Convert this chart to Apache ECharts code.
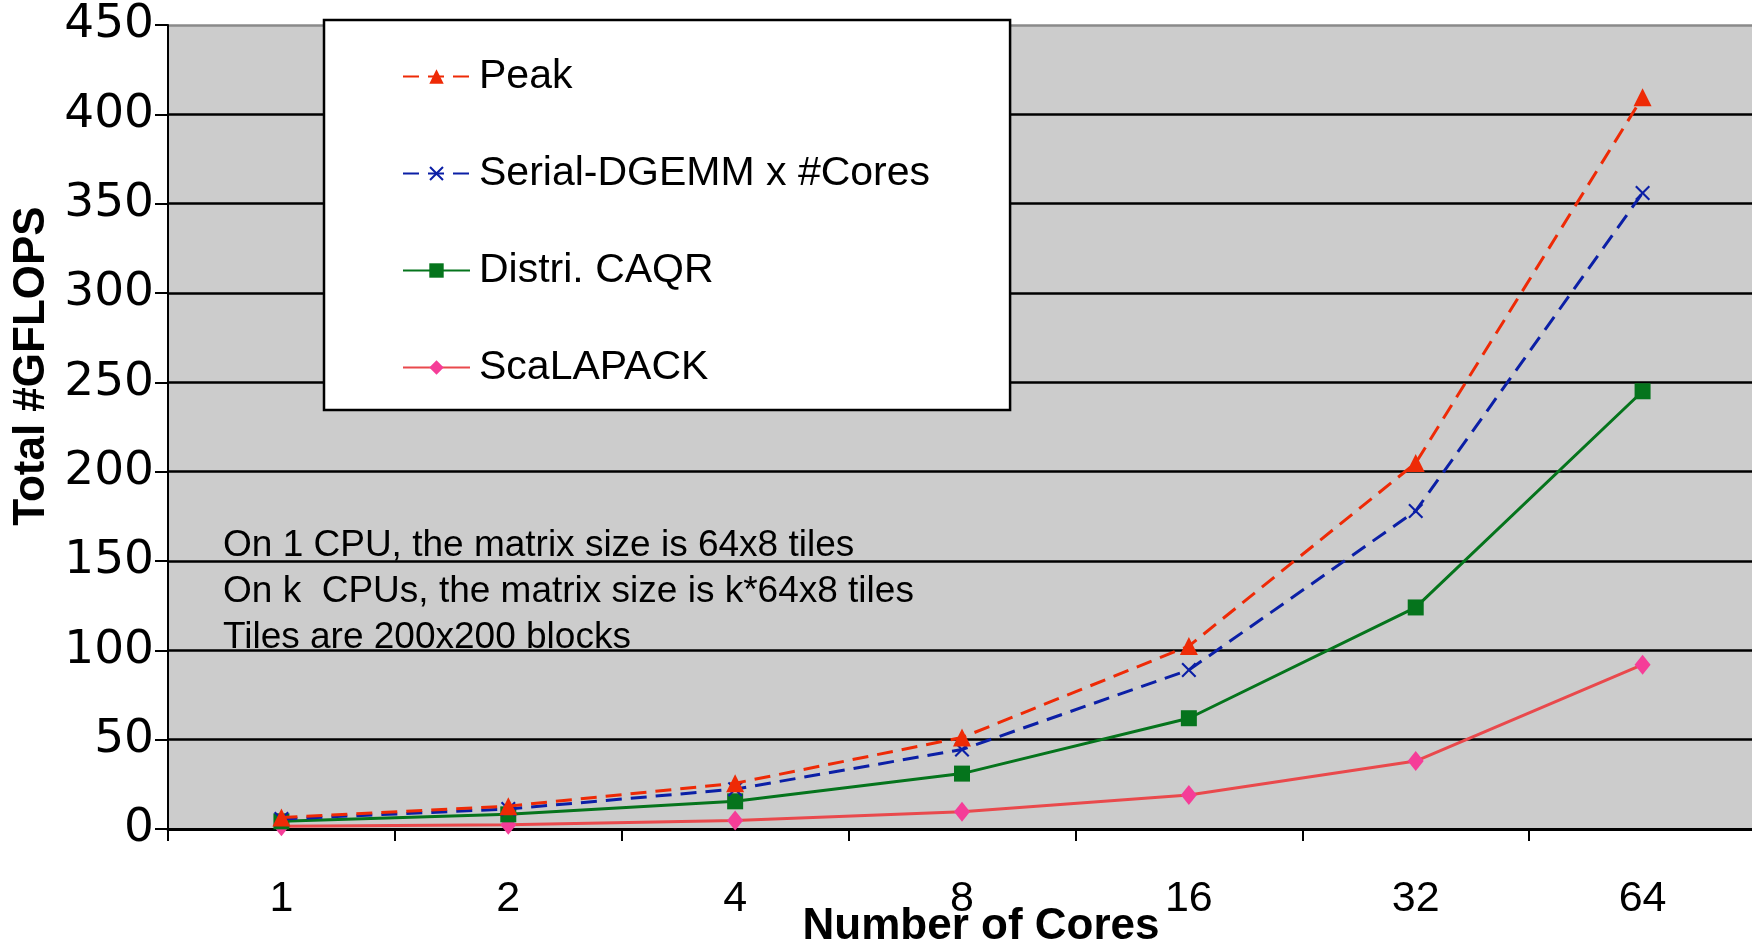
<!DOCTYPE html>
<html>
<head>
<meta charset="utf-8">
<script src="https://cdn.jsdelivr.net/npm/echarts@6/dist/echarts.min.js"></script>
<style>
  html, body { margin: 0; padding: 0; background: #ffffff; }
  #chart { width: 1752px; height: 943px; }
</style>
</head>
<body>
<div id="chart"></div>
<script>
// Cores on the horizontal axis
const cores = ['1', '2', '4', '8', '16', '32', '64'];

// Total GFLOPS per configuration
const peak        = [6.4, 12.8, 25.6, 51.2, 102.4, 204.8, 409.6];
const serialDgemm = [5.6, 11.2, 22.3, 44.5, 89, 178, 356];
const distriCaqr  = [4.3, 8.2, 15.5, 31, 62, 124, 245];
const scalapack   = [1.5, 2.4, 4.8, 9.6, 19, 38, 92];

// Series names
const seriesNames = ['Peak', 'Serial-DGEMM x #Cores', 'Distri. CAQR', 'ScaLAPACK'];

// Vertical axis range
const yMin = 0, yMax = 450, yStep = 50;

// Notes printed inside the plot
const notes = [
  'On 1 CPU, the matrix size is 64x8 tiles',
  'On k  CPUs, the matrix size is k*64x8 tiles',
  'Tiles are 200x200 blocks'
];

const crossPath = 'path://M0,1 L1,0 L5,4 L9,0 L10,1 L6,5 L10,9 L9,10 L5,6 L1,10 L0,9 L4,5 Z';

const chart = echarts.init(document.getElementById('chart'), null, { renderer: 'canvas' });

// top grid line is a lighter frame edge, the rest are black
const splitColors = [];
for (let v = yMin; v <= yMax; v += yStep) splitColors.push(v === yMax ? '#8a8a8a' : '#000000');

const option = {
  animation: false,
  backgroundColor: '#ffffff',
  grid: {
    left: 168, top: 25, width: 1588, height: 804,
    outerBoundsMode: 'none',
    containLabel: false,
    show: true, backgroundColor: '#cccccc', borderWidth: 0
  },
  legend: {
    orient: 'vertical',
    left: 324, top: 20,
    padding: [36, 80, 22, 78],
    backgroundColor: '#ffffff',
    borderColor: '#000000',
    borderWidth: 2.5,
    itemWidth: 67, itemHeight: 18,
    itemGap: 56,
    textStyle: {
      fontFamily: 'Liberation Sans', fontSize: 41, color: '#000000',
      lineHeight: 41, padding: [0, 0, 0, 4]
    },
    data: seriesNames
  },
  xAxis: {
    type: 'category',
    data: cores,
    boundaryGap: true,
    name: 'Number of Cores',
    nameLocation: 'middle',
    nameGap: 76,
    nameMoveOverlap: false,
    nameTextStyle: {
      fontFamily: 'Liberation Sans', fontWeight: 'bold', fontSize: 44, color: '#000000',
      padding: [0, 0, 0, 38]
    },
    axisLine: { show: true, lineStyle: { color: '#000000', width: 3 } },
    axisTick: { show: true, length: 12, alignWithLabel: false, lineStyle: { color: '#000000', width: 2 } },
    axisLabel: { fontFamily: 'Liberation Sans', fontSize: 43, color: '#000000', margin: 49 },
    splitLine: { show: false }
  },
  yAxis: {
    type: 'value',
    min: yMin, max: yMax, interval: yStep,
    name: 'Total #GFLOPS',
    nameLocation: 'middle',
    nameGap: 112,
    nameRotate: 90,
    nameTextStyle: {
      fontFamily: 'Liberation Sans', fontWeight: 'bold', fontSize: 44, color: '#000000',
      padding: [0, 0, 0, 122]
    },
    axisLine: { show: true, lineStyle: { color: '#000000', width: 2 } },
    axisTick: { show: true, length: 13, lineStyle: { color: '#000000', width: 2 } },
    axisLabel: { fontFamily: 'DejaVu Sans', fontSize: 47, color: '#000000', margin: 14 },
    splitLine: { show: true, lineStyle: { color: splitColors, width: 2.5 } }
  },
  graphic: notes.map((t, i) => ({
    type: 'text',
    left: 223,
    top: 527 + i * 46,
    z: 10,
    style: { text: t, fontFamily: 'Liberation Sans', fontSize: 37, fill: '#000000' }
  })),
  series: [
    {
      name: seriesNames[0], type: 'line', data: peak,
      symbol: 'triangle', symbolSize: 18,
      itemStyle: { color: '#ee2a06' },
      lineStyle: { color: '#ee2a06', width: 3, type: [16, 9] },
      z: 4
    },
    {
      name: seriesNames[1], type: 'line', data: serialDgemm,
      symbol: crossPath, symbolSize: 15,
      itemStyle: { color: '#0b1fa6' },
      lineStyle: { color: '#0b1fa6', width: 3, type: [16, 9] },
      z: 3
    },
    {
      name: seriesNames[2], type: 'line', data: distriCaqr,
      symbol: 'rect', symbolSize: 16,
      itemStyle: { color: '#05741c' },
      lineStyle: { color: '#05741c', width: 3 },
      z: 2
    },
    {
      name: seriesNames[3], type: 'line', data: scalapack,
      symbol: 'diamond', symbolSize: [16, 20],
      itemStyle: { color: '#f53d98' },
      lineStyle: { color: '#e9494c', width: 3 },
      z: 1
    }
  ]
};

chart.setOption(option);
</script>
</body>
</html>
